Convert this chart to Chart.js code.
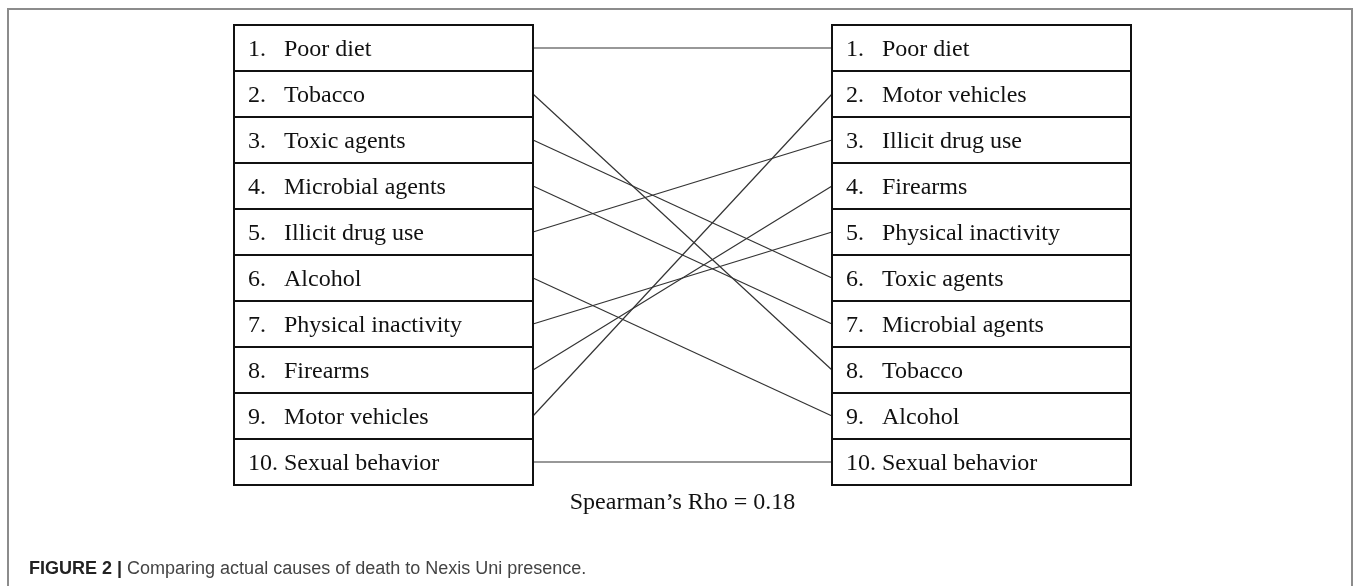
<!DOCTYPE html>
<html>
<head>
<meta charset="utf-8">
<script src="https://cdn.jsdelivr.net/npm/chart.js@4"></script>
<style>
  html, body { margin: 0; padding: 0; background: #fff; }
  #wrap { position: relative; width: 1357px; height: 586px; overflow: hidden; }
  #frame { position: absolute; left: 7px; top: 8px; width: 1346px; height: 600px; border: 2px solid #8c8c8c; box-sizing: border-box; }
  #chart { position: absolute; left: 0; top: 0; }
  #caption { position: absolute; left: 29px; top: 558px; font-family: "Liberation Sans", Arial, sans-serif; font-size: 18px; color: #444; white-space: nowrap; }
  #caption b { color: #222; }
</style>
</head>
<body>
<div id="wrap">
  <div id="frame"></div>
  <canvas id="chart" width="1357" height="586"></canvas>
  <div id="caption"><b>FIGURE 2 |</b> Comparing actual causes of death to Nexis Uni presence.</div>
</div>
<script>
// רשימה שמאלית: סיבות מוות בפועל
const leftCauses = ['Poor diet', 'Tobacco', 'Toxic agents', 'Microbial agents', 'Illicit drug use',
  'Alcohol', 'Physical inactivity', 'Firearms', 'Motor vehicles', 'Sexual behavior'];
// רשימה ימנית: נוכחות ב-Nexis Uni
const rightCauses = ['Poor diet', 'Motor vehicles', 'Illicit drug use', 'Firearms', 'Physical inactivity',
  'Toxic agents', 'Microbial agents', 'Tobacco', 'Alcohol', 'Sexual behavior'];
const rankLabels = ['1.', '2.', '3.', '4.', '5.', '6.', '7.', '8.', '9.', '10.'];
const rhoLabel = 'Spearman\u2019s Rho = 0.18';

// מידות בפיקסלים
const areaW = 897;      // רוחב אזור הגרף
const boxW = 299;       // רוחב כל עמודה
const serif = '"Liberation Serif", "Times New Roman", serif';

// קווים: מדרגה שמאלית -> מדרגה ימנית
const links = leftCauses.map((name, i) => ({
  type: 'scatter',
  showLine: true,
  data: [{ x: boxW, y: i + 1 }, { x: areaW - boxW, y: rightCauses.indexOf(name) + 1 }],
  borderColor: '#333',
  borderWidth: 1.2,
  pointRadius: 0,
  clip: false
}));

// ציור התיבות והטקסט
const boxesPlugin = {
  id: 'boxes',
  afterDatasetsDraw(chart) {
    const { ctx, scales: { x, y } } = chart;
    const columns = [
      { x0: x.getPixelForValue(0), x1: x.getPixelForValue(boxW), names: leftCauses },
      { x0: x.getPixelForValue(areaW - boxW), x1: x.getPixelForValue(areaW), names: rightCauses }
    ];
    ctx.save();
    ctx.strokeStyle = '#111';
    ctx.lineWidth = 2;
    ctx.fillStyle = '#111';
    ctx.font = '24px ' + serif;
    ctx.textBaseline = 'alphabetic';
    columns.forEach(col => {
      col.names.forEach((name, i) => {
        const top = y.getPixelForValue(i + 0.5);
        const bottom = y.getPixelForValue(i + 1.5);
        ctx.strokeRect(col.x0, top, col.x1 - col.x0, bottom - top);
        const base = y.getPixelForValue(i + 1) + 8;
        ctx.fillText(rankLabels[i], col.x0 + 14, base);
        ctx.fillText(name, col.x0 + 50, base);
      });
    });
    // מקדם ספירמן
    ctx.textAlign = 'center';
    ctx.fillText(rhoLabel, (columns[0].x0 + columns[1].x1) / 2, y.getPixelForValue(10.5) + 24);
    ctx.restore();
  }
};

new Chart(document.getElementById('chart'), {
  type: 'scatter',
  data: { datasets: links },
  options: {
    responsive: false,
    animation: false,
    layout: { padding: { left: 234, right: 226, top: 25, bottom: 101 } },
    plugins: { legend: { display: false }, tooltip: { enabled: false } },
    scales: {
      x: { type: 'linear', min: 0, max: areaW, display: false },
      y: { type: 'linear', min: 0.5, max: 10.5, reverse: true, display: false }
    }
  },
  plugins: [boxesPlugin]
});
</script>
</body>
</html>
